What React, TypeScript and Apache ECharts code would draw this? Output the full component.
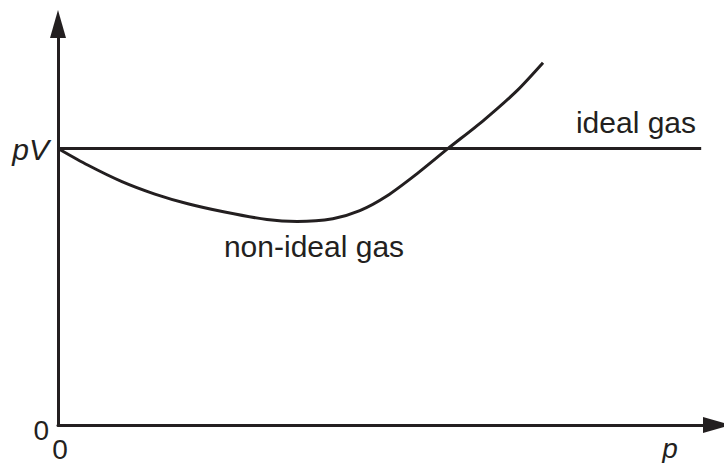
import React, { useEffect, useRef } from "react";
import * as echarts from "echarts";

// Non-ideal gas curve: pressure p (x) vs pV (y), pV of ideal gas = 1
const nonIdealP = [0, 0.45, 0.97, 1.47, 1.97, 2.53, 3.17, 3.63, 4.17, 4.58, 4.99, 5.45, 5.92, 6.45, 6.97, 7.36];
const nonIdealPV = [1.0, 0.94, 0.88, 0.835, 0.8, 0.77, 0.743, 0.736, 0.746, 0.775, 0.828, 0.909, 1.0, 1.1, 1.21, 1.31];
const idealP = [0, 9.76];
const idealPV = [1, 1];
const seriesNames = ["ideal gas", "non-ideal gas"];
const xAxisTitle = "p";
const yAxisTitle = "pV";

const INK = "#231f20";
const FONT = "'Liberation Sans', Arial, Helvetica, sans-serif";

export default function App() {
  const ref = useRef<HTMLDivElement>(null);
  useEffect(() => {
    if (!ref.current) return;
    const chart = echarts.init(ref.current, undefined, { renderer: "svg" });
    chart.setOption({
      animation: false,
      backgroundColor: "#ffffff",
      grid: { left: 58, right: 7, top: 24, bottom: 29, containLabel: false },
      xAxis: {
        type: "value",
        min: 0,
        max: 10,
        interval: 10,
        splitLine: { show: false },
        axisTick: { show: false },
        axisLine: {
          show: true,
          lineStyle: { color: INK, width: 3 },
          symbol: ["none", "triangle"],
          symbolSize: [16, 28],
        },
        axisLabel: {
          margin: 10,
          color: INK,
          fontFamily: FONT,
          fontSize: 28,
          padding: [0, 0, 0, 4],
          formatter: (v: number) => (v === 0 ? "0" : ""),
        },
      },
      yAxis: {
        type: "value",
        min: 0,
        max: 1.45,
        interval: 1,
        splitLine: { show: false },
        axisTick: { show: false },
        axisLine: {
          show: true,
          lineStyle: { color: INK, width: 3 },
          symbol: ["none", "triangle"],
          symbolSize: [16, 28],
        },
        axisLabel: {
          margin: 9,
          color: INK,
          fontFamily: FONT,
          formatter: (v: number) => (v === 0 ? "{n|0}" : v === 1 ? "{i|" + yAxisTitle + "}" : ""),
          rich: {
            n: { fontSize: 28, fontFamily: FONT, color: INK, padding: [10, 0, 0, 0] },
            i: { fontSize: 30, fontFamily: FONT, color: INK, fontStyle: "italic", padding: [2, 0, 0, 0] },
          },
        },
      },
      series: [
        {
          name: seriesNames[0],
          type: "line",
          data: idealP.map((p, i) => [p, idealPV[i]]),
          showSymbol: false,
          lineStyle: { color: INK, width: 3 },
          z: 3,
        },
        {
          name: seriesNames[1],
          type: "line",
          smooth: 0.25,
          data: nonIdealP.map((p, i) => [p, nonIdealPV[i]]),
          showSymbol: false,
          lineStyle: { color: INK, width: 3 },
          z: 3,
        },
      ],
      graphic: [
        {
          type: "text",
          x: 636,
          y: 137,
          style: {
            text: seriesNames[0],
            fontSize: 30,
            fontFamily: FONT,
            fill: INK,
            align: "center",
            verticalAlign: "bottom",
          },
        },
        {
          type: "text",
          x: 314,
          y: 261,
          style: {
            text: seriesNames[1],
            fontSize: 30,
            fontFamily: FONT,
            fill: INK,
            align: "center",
            verticalAlign: "bottom",
          },
        },
        {
          type: "text",
          x: 670,
          y: 434,
          style: {
            text: xAxisTitle,
            fontSize: 28,
            fontStyle: "italic",
            fontFamily: FONT,
            fill: INK,
            align: "center",
            verticalAlign: "top",
          },
        },
      ],
    });
    return () => chart.dispose();
  }, []);
  return <div ref={ref} style={{ width: 724, height: 463, position: "fixed", left: 0, top: 0 }} />;
}
